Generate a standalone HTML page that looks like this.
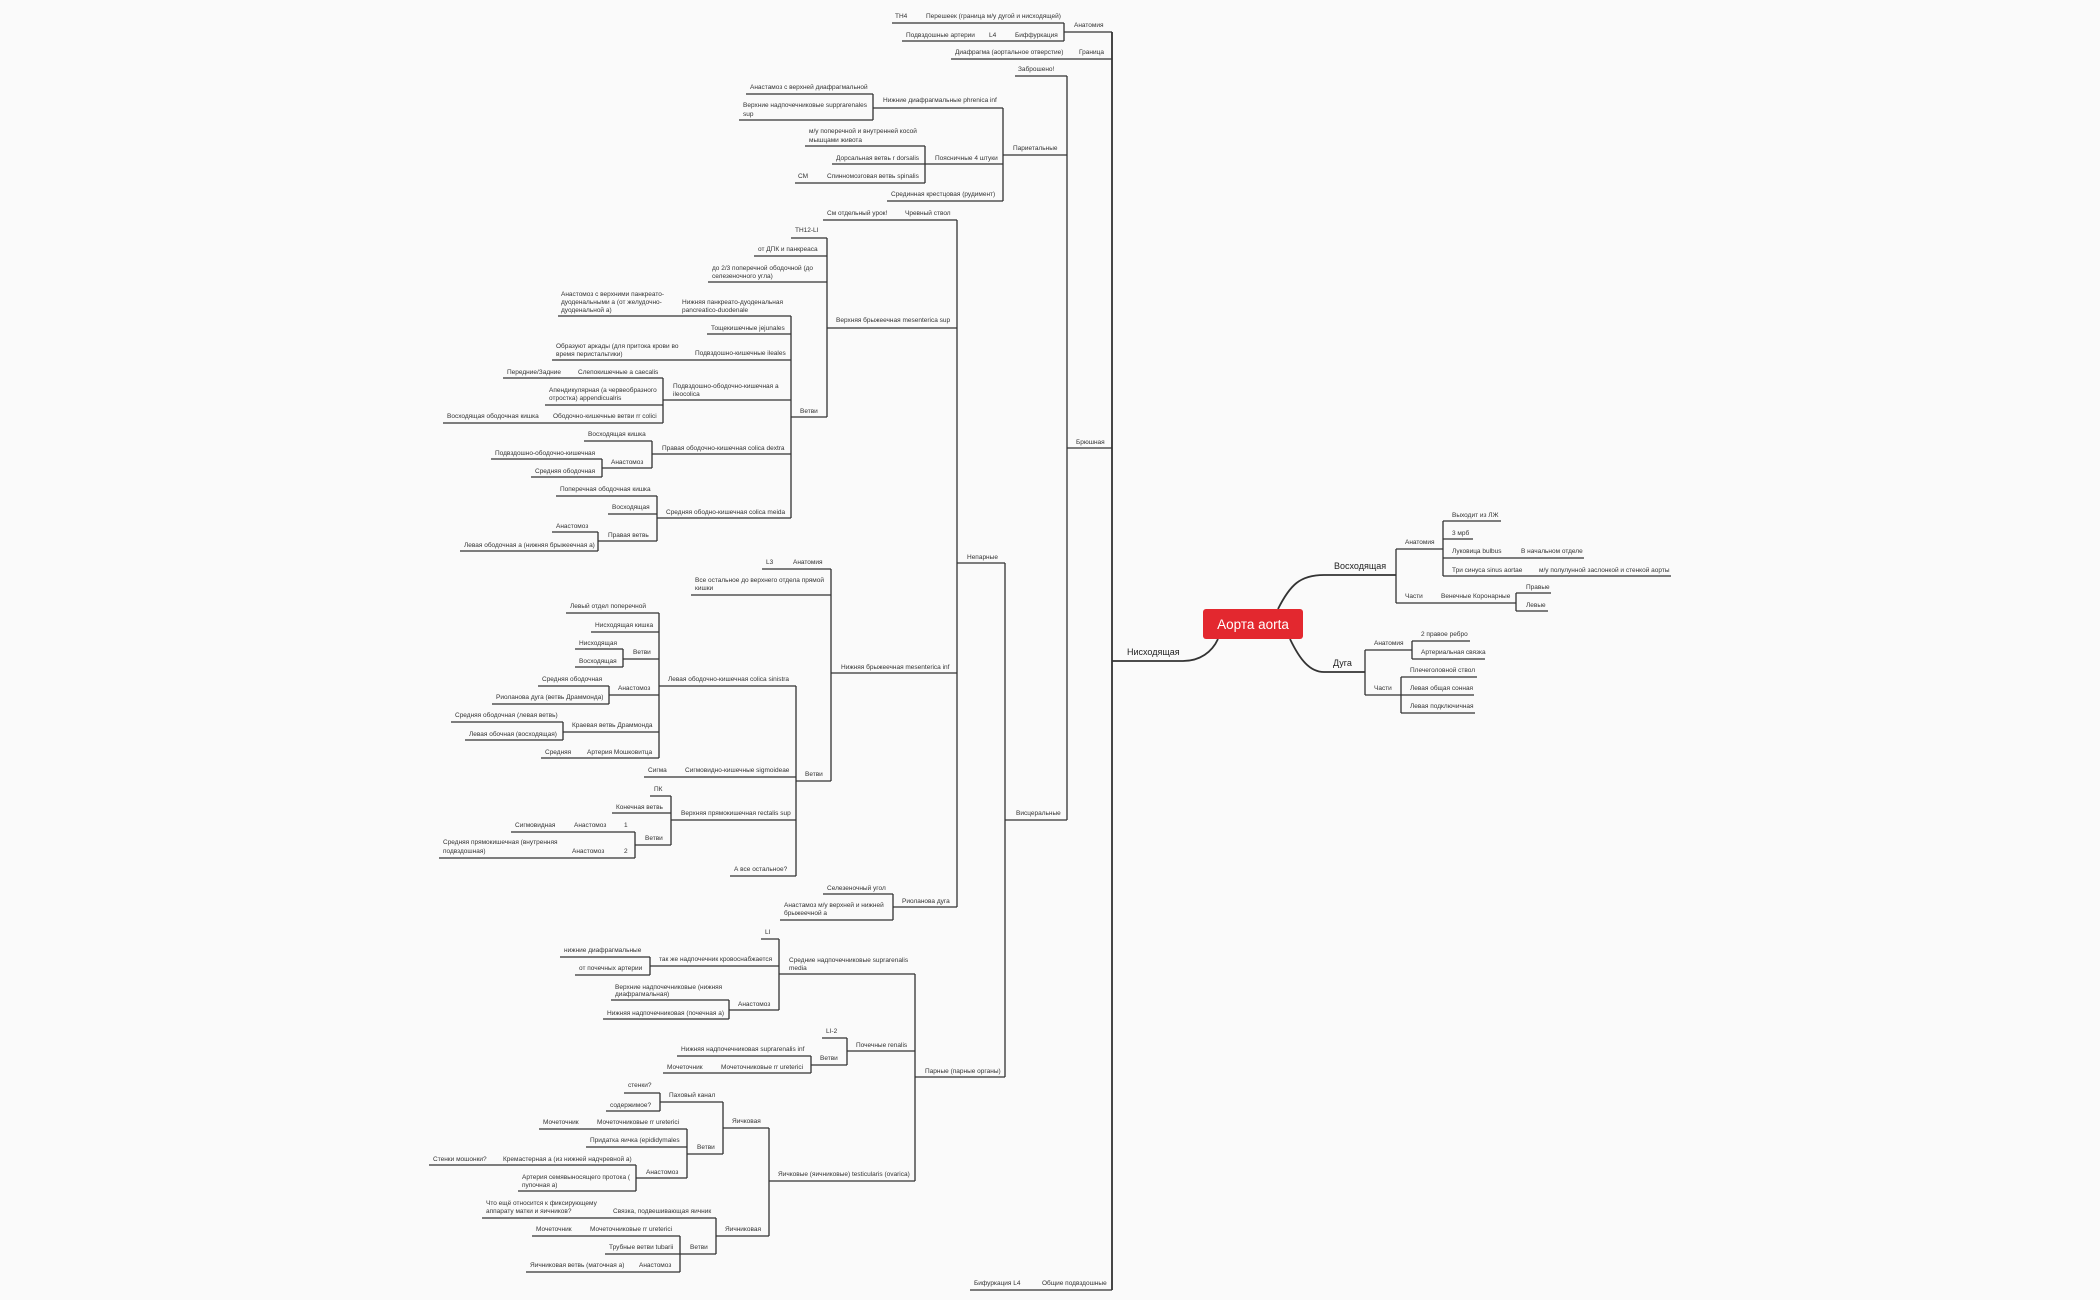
<!DOCTYPE html>
<html><head><meta charset="utf-8"><style>
html,body{margin:0;padding:0;background:#fafafa;}
svg{display:block}
text{font-family:"Liberation Sans",sans-serif;font-size:6.5px;fill:#333}
.b{font-size:9px;fill:#222}
</style></head><body>
<svg width="2100" height="1300" viewBox="0 0 2100 1300" xmlns="http://www.w3.org/2000/svg">
<rect width="2100" height="1300" fill="#fafafa"/>
<path fill="none" stroke="#333" stroke-width="1.3" d="
M1064 32H1112 M918 23H1064 M892 23H918 M1007 41H1064 M983 41H1007 M902 41H983 M1064 23V41
M1070 59H1112 M951 59H1070 M1067 448H1112 M1015 76H1067 M1003 155H1067 M1067 76V820
M873 108H1003 M746 94H873 M739 120H873 M873 94V120
M925 164H1003 M805 146H925 M832 164H925 M815 183H925 M795 183H815 M925 146V183
M887 201H1003 M1003 108V201
M1005 820H1067 M1005 563V1077 M957 563H1005 M957 220V907
M900 220H957 M823 220H900 M827 328H957 M827 238V417
M791 238H827 M754 256H827 M708 282H827 M791 417H827 M791 316V518
M678 316H791 M558 316H678 M707 334H791 M688 360H791 M552 360H688 M663 400H791 M663 378V423
M570 378H663 M503 378H570 M545 405H663 M540 423H663 M443 423H540
M652 454H791 M652 441V468 M584 441H652 M602 468H652 M602 459V477 M491 459H602 M531 477H602
M657 518H791 M657 496V541 M556 496H657 M608 514H657 M598 541H657 M598 532V551 M552 532H598 M460 551H598
M831 673H957 M831 569V781 M787 569H831 M762 569H787 M691 595H831 M796 781H831 M796 686V876
M659 686H796 M659 613V758 M566 613H659 M591 632H659 M623 659H659 M623 649V667 M575 649H623 M575 667H623
M609 695H659 M609 686V704 M538 686H609 M492 704H609 M563 732H659 M563 722V740 M451 722H563 M465 740H563
M578 758H659 M541 758H578 M672 777H796 M644 777H672 M671 820H796 M671 796V845 M650 796H671 M612 813H671
M635 845H671 M635 832V858 M618 832H635 M561 832H618 M511 832H561 M618 858H635 M558 858H618 M439 858H558
M730 876H796 M893 907H957 M893 894V920 M823 894H893 M780 920H893
M915 1077H1005 M915 974V1181 M779 974H915 M779 939V1010 M761 939H779 M650 966H779 M650 957V975 M560 957H650 M575 975H650
M729 1010H779 M729 1000V1019 M611 1000H729 M603 1019H729
M847 1051H915 M847 1038V1065 M822 1038H847 M811 1065H847 M811 1056V1073 M677 1056H811 M706 1073H811 M663 1073H706
M769 1181H915 M769 1128V1236 M723 1128H769 M723 1102V1154 M660 1102H723 M660 1093V1111 M624 1093H660 M606 1111H660
M687 1154H723 M687 1129V1178 M583 1129H687 M539 1129H583 M586 1147H687 M636 1178H687 M636 1165V1191 M489 1165H636 M429 1165H489 M518 1191H636
M716 1236H769 M716 1218V1254 M603 1218H716 M482 1218H603 M680 1254H716 M680 1236V1272 M575 1236H680 M532 1236H575 M605 1254H680 M625 1272H680 M526 1272H625
M1035 1290H1112 M970 1290H1035
M1396 549H1443 M1443 521V576 M1443 521H1501 M1443 539H1473 M1443 558H1584 M1443 576H1671
M1396 603H1516 M1396 549V603 M1516 593V611 M1516 593H1551 M1516 611H1548
M1365 650H1412 M1412 641V659 M1412 641H1470 M1412 659H1485
M1365 695H1401 M1365 650V695 M1401 677V713 M1401 677H1477 M1401 695H1474 M1401 713H1475
"/>
<path fill="none" stroke="#333" stroke-width="1.8" d="M1112 32V1290 M1112 661H1183 C1200 661 1212 652 1218 639 M1278 609 C1290 585 1300 575 1324 575 H1396 M1290 639 C1300 660 1310 672 1324 672 H1365"/>
<rect x="1203" y="609" width="100" height="30" rx="3" fill="#e3282f"/>
<text x="1253" y="629" text-anchor="middle" style="font-size:13.5px;fill:#fff">Аорта aorta</text>
<text class="b" x="1127" y="655">Нисходящая</text>
<text class="b" x="1334" y="569">Восходящая</text>
<text class="b" x="1333" y="666">Дуга</text>
<text x="1405" y="544">Анатомия</text>
<text x="1452" y="517">Выходит из ЛЖ</text>
<text x="1452" y="535">3 мрб</text>
<text x="1452" y="553">Луковица bulbus</text>
<text x="1521" y="553">В начальном отделе</text>
<text x="1452" y="572">Три синуса sinus aortae</text>
<text x="1539" y="572">м/у полулунной заслонкой и стенкой аорты</text>
<text x="1405" y="598">Части</text>
<text x="1441" y="598">Венечные Коронарные</text>
<text x="1526" y="589">Правые</text>
<text x="1526" y="607">Левые</text>
<text x="1374" y="645">Анатомия</text>
<text x="1421" y="636">2 правое ребро</text>
<text x="1421" y="654">Артериальная связка</text>
<text x="1374" y="690">Части</text>
<text x="1410" y="672">Плечеголовной ствол</text>
<text x="1410" y="690">Левая общая сонная</text>
<text x="1410" y="708">Левая подключичная</text>

<text x="1074" y="27">Анатомия</text>
<text x="926" y="18">Перешеек (граница м/у дугой и нисходящей)</text>
<text x="895" y="18">TH4</text>
<text x="1015" y="37">Биффуркация</text>
<text x="989" y="37">L4</text>
<text x="906" y="37">Подвздошные артерии</text>
<text x="1079" y="54">Граница</text>
<text x="955" y="54">Диафрагма (аортальное отверстие)</text>
<text x="1076" y="444">Брюшная</text>
<text x="1018" y="71">Заброшено!</text>
<text x="1013" y="150">Париетальные</text>
<text x="883" y="102">Нижние диафрагмальные phrenica inf</text>
<text x="750" y="89">Анастамоз с верхней диафрагмальной</text>
<text x="743" y="107">Верхние надпочечниковые supprarenales</text>
<text x="743" y="116">sup</text>
<text x="935" y="160">Поясничные 4 штуки</text>
<text x="809" y="133">м/у поперечной и внутренней косой</text>
<text x="809" y="142">мышцами живота</text>
<text x="836" y="160">Дорсальная ветвь r dorsalis</text>
<text x="827" y="178">Спинномозговая ветвь spinalis</text>
<text x="798" y="178">СМ</text>
<text x="891" y="196">Срединная крестцовая (рудимент)</text>
<text x="1016" y="815">Висцеральные</text>
<text x="967" y="559">Непарные</text>
<text x="905" y="215">Чревный ствол</text>
<text x="827" y="215">См отдельный урок!</text>
<text x="836" y="322">Верхняя брыжеечная mesenterica sup</text>
<text x="795" y="232">TH12-LI</text>
<text x="758" y="251">от ДПК и панкреаса</text>
<text x="712" y="270">до  2/3 поперечной ободочной  (до</text>
<text x="712" y="278">селезеночного угла)</text>
<text x="800" y="413">Ветви</text>
<text x="682" y="304">Нижняя панкреато-дуоденальная</text>
<text x="682" y="312">pancreatico-duodenale</text>
<text x="561" y="296">Анастомоз с верхними панкреато-</text>
<text x="561" y="304">дуоденальными а (от желудочно-</text>
<text x="561" y="312">дуоденальной а)</text>
<text x="711" y="330">Тощекишечные jejunales</text>
<text x="695" y="355">Подвздошно-кишечные  ileales</text>
<text x="556" y="348">Образуют аркады (для притока крови во</text>
<text x="556" y="356">время перистальтики)</text>
<text x="673" y="388">Подвздошно-ободочно-кишечная а</text>
<text x="673" y="396">ileocolica</text>
<text x="578" y="374">Слепокишечные а caecalis</text>
<text x="507" y="374">Передние/Задние</text>
<text x="549" y="392">Апендикулярная (а червеобразного</text>
<text x="549" y="400">отростка) appendicualris</text>
<text x="553" y="418">Ободочно-кишечные ветви rr colici</text>
<text x="447" y="418">Восходящая ободочная кишка</text>
<text x="662" y="450">Правая ободочно-кишечная colica dextra</text>
<text x="588" y="436">Восходящая кишка</text>
<text x="611" y="464">Анастомоз</text>
<text x="495" y="455">Подвздошно-ободочно-кишечная</text>
<text x="535" y="473">Средняя ободочная</text>
<text x="666" y="514">Средняя ободно-кишечная colica meida</text>
<text x="560" y="491">Поперечная ободочная кишка</text>
<text x="612" y="509">Восходящая</text>
<text x="608" y="537">Правая ветвь</text>
<text x="556" y="528">Анастомоз</text>
<text x="464" y="547">Левая ободочная а (нижняя брыжеечная а)</text>
<text x="841" y="669">Нижняя брыжеечная mesenterica inf</text>
<text x="793" y="564">Анатомия</text>
<text x="766" y="564">L3</text>
<text x="695" y="582">Все остальное до верхнего отдела прямой</text>
<text x="695" y="590">кишки</text>
<text x="805" y="776">Ветви</text>
<text x="668" y="681">Левая ободочно-кишечная colica sinistra</text>
<text x="570" y="608">Левый отдел поперечной</text>
<text x="595" y="627">Нисходящая кишка</text>
<text x="633" y="654">Ветви</text>
<text x="579" y="645">Нисходящая</text>
<text x="579" y="663">Восходящая</text>
<text x="618" y="690">Анастомоз</text>
<text x="542" y="681">Средняя ободочная</text>
<text x="496" y="699">Риоланова дуга (ветвь Драммонда)</text>
<text x="572" y="727">Краевая ветвь Драммонда</text>
<text x="455" y="717">Средняя ободочная (левая ветвь)</text>
<text x="469" y="736">Левая обочная (восходящая)</text>
<text x="587" y="754">Артерия Мошковитца</text>
<text x="545" y="754">Средняя</text>
<text x="685" y="772">Сигмовидно-кишечные sigmoideae</text>
<text x="648" y="772">Сигма</text>
<text x="681" y="815">Верхняя прямокишечная rectalis sup</text>
<text x="654" y="791">ПК</text>
<text x="616" y="809">Конечная ветвь</text>
<text x="645" y="840">Ветви</text>
<text x="624" y="827">1</text>
<text x="574" y="827">Анастомоз</text>
<text x="515" y="827">Сигмовидная</text>
<text x="624" y="853">2</text>
<text x="572" y="853">Анастомоз</text>
<text x="443" y="844">Средняя прямокишечная (внутренняя</text>
<text x="443" y="853">подвздошная)</text>
<text x="734" y="871">А все остальное?</text>
<text x="902" y="903">Риоланова дуга</text>
<text x="827" y="890">Селезеночный угол</text>
<text x="784" y="907">Анастамоз м/у верхней и нижней</text>
<text x="784" y="915">брыжеечной а</text>
<text x="925" y="1073">Парные (парные органы)</text>
<text x="789" y="962">Средние надпочечниковые suprarenalis</text>
<text x="789" y="970">media</text>
<text x="765" y="934">LI</text>
<text x="659" y="961">так же надпочечник кровоснабжается</text>
<text x="564" y="952">нижние диафрагмальные</text>
<text x="579" y="970">от почечных артерии</text>
<text x="738" y="1006">Анастомоз</text>
<text x="615" y="989">Верхние надпочечниковые (нижняя</text>
<text x="615" y="996">диафрагмальная)</text>
<text x="607" y="1015">Нижняя надпочечниковая (почечная а)</text>
<text x="856" y="1047">Почечные renalis</text>
<text x="826" y="1033">LI-2</text>
<text x="820" y="1060">Ветви</text>
<text x="681" y="1051">Нижняя надпочечниковая suprarenalis inf</text>
<text x="721" y="1069">Мочеточниковые rr ureterici</text>
<text x="667" y="1069">Мочеточник</text>
<text x="778" y="1176">Яичковые (яичниковые) testicularis (ovarica)</text>
<text x="732" y="1123">Яичковая</text>
<text x="669" y="1097">Паховый канал</text>
<text x="628" y="1087">стенки?</text>
<text x="610" y="1107">содержимое?</text>
<text x="697" y="1149">Ветви</text>
<text x="597" y="1124">Мочеточниковые rr ureterici</text>
<text x="543" y="1124">Мочеточник</text>
<text x="590" y="1142">Придатка яичка (epididymales</text>
<text x="646" y="1174">Анастомоз</text>
<text x="503" y="1161">Кремастерная а (из нижней надчревной а)</text>
<text x="433" y="1161">Стенки мошонки?</text>
<text x="522" y="1179">Артерия семявыносящего протока (</text>
<text x="522" y="1187">пупочная а)</text>
<text x="725" y="1231">Яичниковая</text>
<text x="613" y="1213">Связка, подвешивающая яичник</text>
<text x="486" y="1205">Что ещё относится к фиксирующему</text>
<text x="486" y="1213">аппарату матки и яичников?</text>
<text x="690" y="1249">Ветви</text>
<text x="590" y="1231">Мочеточниковые rr ureterici</text>
<text x="536" y="1231">Мочеточник</text>
<text x="609" y="1249">Трубные ветви tubarii</text>
<text x="639" y="1267">Анастомоз</text>
<text x="530" y="1267">Яичниковая ветвь (маточная а)</text>
<text x="1042" y="1285">Общие подвздошные</text>
<text x="974" y="1285">Бифуркация L4</text>
</svg>
</body></html>
